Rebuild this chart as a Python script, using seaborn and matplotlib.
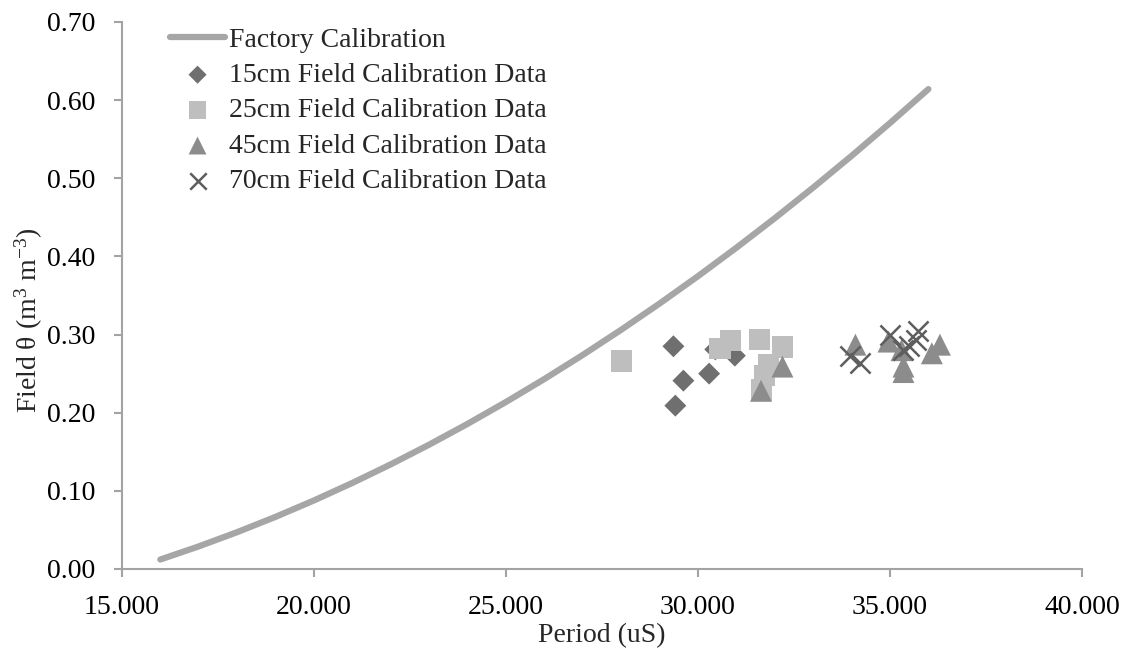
import matplotlib
matplotlib.use("Agg")
import matplotlib.pyplot as plt
import seaborn as sns
import pandas as pd
from matplotlib.ticker import FuncFormatter, MultipleLocator

# Factory calibration curve (period in uS, water content in m3/m3)
factory_period = [16, 17, 18, 19, 20, 21, 22, 23, 24, 25, 26, 27, 28, 29, 30, 31, 32, 33, 34, 35, 36]
factory_theta = [0.0121, 0.0289, 0.0471, 0.0667, 0.0877, 0.1101, 0.1339, 0.1591, 0.1857, 0.2137,
                 0.2431, 0.2739, 0.3061, 0.3397, 0.3747, 0.4111, 0.4489, 0.4881, 0.5287, 0.5707, 0.6141]

# Field calibration samples by depth
p15 = [29.36, 29.62, 30.29, 29.41, 30.96, 30.45]
t15 = [0.285, 0.241, 0.250, 0.209, 0.273, 0.281]

p25 = [28.00, 30.57, 30.85, 31.60, 32.20, 31.83, 31.73, 31.66]
t25 = [0.266, 0.282, 0.292, 0.294, 0.284, 0.261, 0.248, 0.229]

p45 = [31.64, 32.20, 34.10, 34.96, 35.35, 35.35, 36.09, 36.30, 35.30]
t45 = [0.228, 0.259, 0.287, 0.291, 0.259, 0.252, 0.276, 0.287, 0.280]

p70 = [33.96, 34.22, 35.00, 35.74, 35.35, 35.69, 35.50]
t70 = [0.272, 0.263, 0.299, 0.304, 0.280, 0.293, 0.285]

labels = ["Factory Calibration", "15cm Field Calibration Data", "25cm Field Calibration Data",
          "45cm Field Calibration Data", "70cm Field Calibration Data"]

sns.set_theme(style="white")
plt.rcParams["font.family"] = ["Liberation Serif", "DejaVu Serif"]
plt.rcParams["mathtext.fontset"] = "custom"
plt.rcParams["mathtext.rm"] = "Liberation Serif"
plt.rcParams["mathtext.it"] = "Liberation Serif:italic"

FS = 20
AXIS_GREY = "#a3a3a3"

fig = plt.figure(figsize=(11.23, 6.58), dpi=100)
ax = fig.add_axes([0.1086, 0.1353, 0.8549, 0.8313])

factory = pd.DataFrame({"period": factory_period, "theta": factory_theta})
sns.lineplot(data=factory, x="period", y="theta", ax=ax, color="#a6a6a6", linewidth=4.5,
             label=labels[0], solid_capstyle="round")

# (periods, thetas, marker, colour, plot size, legend size, label)
series = [
    (p15, t15, "D", "#6f6f6f", 125, 85, labels[1]),
    (p25, t25, "s", "#bebebe", 235, 160, labels[2]),
    (p45, t45, "^", "#8c8c8c", 250, 165, labels[3]),
]
legend_sizes = []
for px, ty, mk, col, sz, lsz, lab in series:
    df = pd.DataFrame({"period": px, "theta": ty})
    sns.scatterplot(data=df, x="period", y="theta", ax=ax, marker=mk, color=col, s=sz,
                    edgecolor="none", label=lab)
    legend_sizes.append(lsz)

df70 = pd.DataFrame({"period": p70, "theta": t70})
sns.scatterplot(data=df70, x="period", y="theta", ax=ax, marker="x", color="#5e5e5e", s=210,
                linewidth=1.8, label=labels[4])
legend_sizes.append(140)

ax.set_xlim(15, 40)
ax.set_ylim(0, 0.70)
ax.xaxis.set_major_locator(MultipleLocator(5))
ax.yaxis.set_major_locator(MultipleLocator(0.10))
ax.xaxis.set_major_formatter(FuncFormatter(lambda v, _: f"{v:.3f}"))
ax.yaxis.set_major_formatter(FuncFormatter(lambda v, _: f"{v:.2f}"))

for side in ("top", "right"):
    ax.spines[side].set_visible(False)
for side in ("left", "bottom"):
    ax.spines[side].set_color(AXIS_GREY)
    ax.spines[side].set_linewidth(1.5)
ax.tick_params(axis="both", which="major", direction="out", length=6, width=1.5,
               color=AXIS_GREY, labelsize=FS, labelcolor="black", pad=13)
ax.tick_params(left=True, bottom=True)

ax.set_xlabel("Period (uS)", fontsize=FS)
ax.set_ylabel(r"Field θ (m$^{3}$ m$^{-3}$)", fontsize=FS)
ax.xaxis.label.set_va("center")
ax.yaxis.label.set_va("center")
ax.xaxis.set_label_coords(0.5, -0.1225)
ax.yaxis.set_label_coords(-0.097, 0.455)

leg = ax.legend(loc="upper left", bbox_to_anchor=(0.0385, 1.011), frameon=False, fontsize=FS,
                handlelength=1.98, handletextpad=0.15, labelspacing=0.36, borderaxespad=0)
for handle, size in zip(leg.legend_handles[1:], legend_sizes):
    handle.set_sizes([size])

fig.savefig("out.png", dpi=100, facecolor="white")
